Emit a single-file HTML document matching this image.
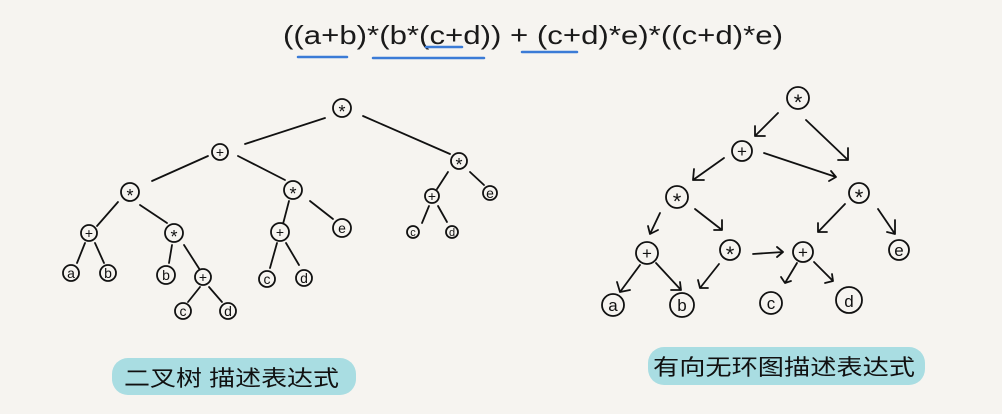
<!DOCTYPE html>
<html><head><meta charset="utf-8"><style>
body{margin:0;background:#f6f4f0;}
svg{display:block}
text{font-family:"Liberation Sans",sans-serif;}
</style></head><body>
<svg width="1002" height="414" viewBox="0 0 1002 414" xmlns="http://www.w3.org/2000/svg">
<rect width="1002" height="414" fill="#f6f4f0"/>
<text x="283" y="44" font-size="26" fill="#1a1a1a" textLength="500" lengthAdjust="spacingAndGlyphs">((a+b)*(b*(c+d)) + (c+d)*e)*((c+d)*e)</text>
<g stroke="#3b7bd6" stroke-width="2.5" stroke-linecap="round">
<line x1="298" y1="57" x2="347" y2="57"/><line x1="373" y1="58" x2="484" y2="58"/>
<line x1="426" y1="47" x2="462" y2="47"/><line x1="522" y1="52" x2="577" y2="52"/>
</g>
<rect x="112" y="358" width="244" height="37" rx="16" fill="#a9dde2"/>
<rect x="648" y="347" width="277" height="38" rx="16" fill="#a9dde2"/>
<text x="124" y="386" font-size="22" fill="#111" font-weight="300" font-family="'Noto Sans CJK SC',sans-serif" textLength="215" lengthAdjust="spacingAndGlyphs">二叉树 描述表达式</text>
<text x="653" y="375" font-size="22" fill="#111" font-weight="300" font-family="'Noto Sans CJK SC',sans-serif" textLength="262" lengthAdjust="spacingAndGlyphs">有向无环图描述表达式</text>
<g stroke="#111" stroke-width="1.8" fill="none" stroke-linecap="round">
<line x1="325" y1="118" x2="245" y2="144"/><line x1="363" y1="116" x2="450" y2="154"/>
<line x1="208" y1="156" x2="152" y2="181"/><line x1="238" y1="156" x2="285" y2="180"/>
<line x1="118" y1="202" x2="97" y2="226"/><line x1="140" y1="205" x2="167" y2="223"/>
<line x1="289" y1="201" x2="283" y2="224"/><line x1="310" y1="201" x2="333" y2="219"/>
<line x1="448" y1="172" x2="437" y2="189"/><line x1="470" y1="172" x2="484" y2="185"/>
<line x1="85" y1="243" x2="77" y2="263"/><line x1="95" y1="243" x2="104" y2="263"/>
<line x1="172" y1="245" x2="169" y2="263"/><line x1="184" y1="245" x2="200" y2="270"/>
<line x1="277" y1="243" x2="270" y2="268"/><line x1="286" y1="243" x2="299" y2="265"/>
<line x1="429" y1="206" x2="422" y2="223"/><line x1="438" y1="206" x2="447" y2="222"/>
<line x1="200" y1="287" x2="188" y2="302"/><line x1="209" y1="287" x2="222" y2="302"/>
</g>
<g stroke="#111" stroke-width="1.8" fill="none" stroke-linecap="round" stroke-linejoin="round">
<path d="M778 113 L755 136 M755 126 L755 136 L765 136"/>
<path d="M806 120 L848 160 M848 148 L848 160 L838 160"/>
<path d="M724 158 L693 180 M694 169 L693 180 L704 180"/>
<path d="M764 153 L836 177 M831 171 L836 177 L829 181"/>
<path d="M660 213 L650 234 M648 226 L650 234 L658 230"/>
<path d="M695 209 L722 230 M722 220 L722 230 L714 230"/>
<path d="M845 204 L818 232 M818 223 L818 232 L827 232"/>
<path d="M878 209 L895 234 M895 220 L895 234 L887 232"/>
<path d="M640 265 L620 292 M617 282 L620 292 L630 290"/>
<path d="M656 263 L681 290 M671 290 L681 290 L680 282"/>
<path d="M719 264 L700 288 M698 280 L700 288 L708 288"/>
<path d="M753 254 L783 252 M777 247 L783 252 L777 257"/>
<path d="M797 263 L785 283 M781 277 L785 283 L791 281"/>
<path d="M814 262 L833 281 M825 283 L833 281 L832 274"/>
</g>
<g stroke="#111" stroke-width="1.8" fill="#f6f4f0">
<circle cx="342" cy="108" r="9"/><circle cx="220" cy="152" r="8"/><circle cx="459" cy="161" r="8"/>
<circle cx="130" cy="192" r="9"/><circle cx="293" cy="190" r="9"/><circle cx="89" cy="233" r="8"/>
<circle cx="174" cy="233" r="9"/><circle cx="280" cy="232" r="9"/><circle cx="342" cy="228" r="9"/>
<circle cx="432" cy="196" r="7"/><circle cx="490" cy="193" r="7"/><circle cx="413" cy="232" r="6"/>
<circle cx="452" cy="232" r="6"/><circle cx="71" cy="273" r="8"/><circle cx="108" cy="273" r="8"/>
<circle cx="166" cy="275" r="9"/><circle cx="203" cy="277" r="8"/><circle cx="183" cy="311" r="8"/>
<circle cx="228" cy="311" r="8"/><circle cx="267" cy="279" r="8"/><circle cx="304" cy="278" r="8"/>
<circle cx="798" cy="98" r="11"/><circle cx="742" cy="151" r="10"/><circle cx="677" cy="197" r="11"/>
<circle cx="859" cy="193" r="10"/><circle cx="647" cy="253" r="11"/><circle cx="730" cy="250" r="10"/>
<circle cx="803" cy="252" r="10"/><circle cx="899" cy="250" r="10"/><circle cx="613" cy="305" r="11"/>
<circle cx="682" cy="305" r="12"/><circle cx="771" cy="303" r="11"/><circle cx="849" cy="300" r="13"/>
</g>
<g fill="#111" font-size="14" text-anchor="middle">
<g font-size="18"><text x="342" y="118">*</text><text x="459" y="171">*</text>
<text x="130" y="202">*</text><text x="293" y="200">*</text><text x="174" y="243">*</text></g>
<text x="220" y="157">+</text><text x="89" y="238">+</text>
<text x="280" y="237">+</text><text x="342" y="233">e</text>
<text x="432" y="201">+</text><text x="490" y="198">e</text><text x="413" y="236" font-size="11">c</text>
<text x="452" y="236" font-size="11">d</text><text x="71" y="278">a</text><text x="108" y="278">b</text>
<text x="166" y="280">b</text><text x="203" y="282">+</text><text x="183" y="316">c</text>
<text x="228" y="316">d</text><text x="267" y="284">c</text><text x="304" y="283">d</text>
<g font-size="22"><text x="798" y="110">*</text><text x="677" y="209">*</text>
<text x="859" y="205">*</text><text x="730" y="262">*</text></g>
<g font-size="17"><text x="742" y="157">+</text>
<text x="647" y="259">+</text>
<text x="803" y="258">+</text><text x="899" y="256">e</text><text x="613" y="311">a</text>
<text x="682" y="311">b</text><text x="771" y="309">c</text><text x="849" y="307">d</text></g>
</g>
</svg>
</body></html>
